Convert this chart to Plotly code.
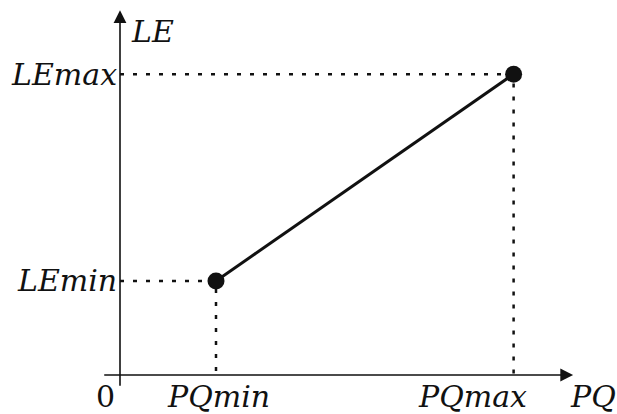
import plotly.graph_objects as go

# Production quantity (PQ) and level of effort (LE) at the two ends of the segment
pq_values = [1.0, 4.1]
le_values = [1.0, 3.2]
pq_labels = ["PQmin", "PQmax"]
le_labels = ["LEmin", "LEmax"]
x_title = "PQ"
y_title = "LE"
origin_label = "0"

FONT = dict(family="DejaVu Serif", size=30, color="#111111")
INK = "#111111"

fig = go.Figure()

# dotted guides from each point to both axes
for px, py in zip(pq_values, le_values):
    fig.add_trace(go.Scatter(
        x=[0, px, px], y=[py, py, 0], mode="lines",
        line=dict(color=INK, width=2.5, dash="4px,9px"),
        hoverinfo="skip", showlegend=False,
    ))

# the linear relation between the two end points
fig.add_trace(go.Scatter(
    x=pq_values, y=le_values, mode="lines+markers",
    line=dict(color=INK, width=3),
    marker=dict(color=INK, size=17),
    showlegend=False,
))

# axes drawn as arrows
fig.add_annotation(x=4.72, y=0, ax=-0.18, ay=0, xref="x", yref="y", axref="x", ayref="y",
                   text="", showarrow=True, arrowhead=2, arrowsize=1.6, arrowwidth=1.6,
                   arrowcolor=INK, standoff=0, startstandoff=0)
fig.add_annotation(x=0, y=3.88, ax=0, ay=-0.13, xref="x", yref="y", axref="x", ayref="y",
                   text="", showarrow=True, arrowhead=2, arrowsize=1.6, arrowwidth=1.6,
                   arrowcolor=INK, standoff=0, startstandoff=0)

def label(text, x, y, xanchor="center", yanchor="middle", xshift=0, yshift=0, italic=True):
    fig.add_annotation(x=x, y=y, xref="x", yref="y",
                       text=f"<i>{text}</i>" if italic else text, showarrow=False,
                       xanchor=xanchor, yanchor=yanchor, xshift=xshift, yshift=yshift,
                       font=FONT)

for lab, py in zip(le_labels, le_values):
    label(lab, 0, py, xanchor="right", xshift=-1)
label(pq_labels[0], pq_values[0], 0, yanchor="top", yshift=-2, xshift=2)
label(pq_labels[1], pq_values[1], 0, yanchor="top", yshift=-2, xshift=-41)
label(x_title, 4.72, 0, xanchor="left", yanchor="top", yshift=-2, xshift=-5)
label(y_title, 0, 3.88, xanchor="left", yanchor="top", xshift=9, yshift=-2)
label(origin_label, 0, 0, xanchor="right", yanchor="top", xshift=-3, yshift=-2, italic=False)

fig.update_layout(
    width=617, height=414,
    margin=dict(l=0, r=0, t=0, b=0),
    paper_bgcolor="white", plot_bgcolor="white",
    xaxis=dict(range=[-1.25, 5.177], visible=False, fixedrange=True),
    yaxis=dict(range=[-0.415, 3.989], visible=False, fixedrange=True),
)

fig.write_html("out.html")
